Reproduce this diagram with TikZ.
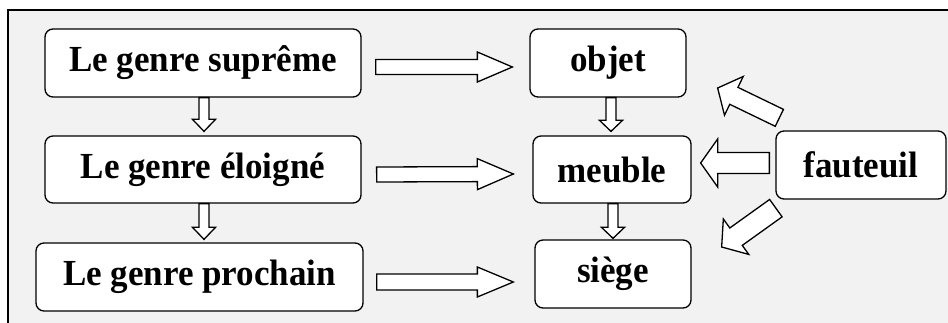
\documentclass[tikz,border=0pt]{standalone}
\usepackage{fontspec}
\usepackage{graphicx}
\setmainfont{Liberation Serif}
\usetikzlibrary{calc}
\definecolor{panel}{HTML}{F2F2F2}
\newcommand\tall[1]{\scalebox{1}[1.05]{#1}}
\tikzset{
  box/.style={draw=black, fill=white, line width=1.3pt, rounded corners=8pt,
    font=\fontsize{35}{40}\selectfont\bfseries, inner sep=0pt, anchor=center},
  blockarrow/.style={draw=black, fill=white, line width=1.3pt, line join=miter},
}
% Block arrow: #1 tail, #2 tip, #3 half shaft width, #4 half head width, #5 head length
\newcommand\blockarr[5]{%
  \path ($(#2)!#5!(#1)$) coordinate (ba-h);
  \draw[blockarrow] ($(#1)!#3!90:(#2)$) -- ($(ba-h)!#3!-90:(#1)$)
    -- ($(ba-h)!#4!-90:(#1)$) -- (#2) -- ($(ba-h)!#4!90:(#1)$)
    -- ($(ba-h)!#3!90:(#1)$) -- ($(#1)!#3!-90:(#2)$) -- cycle;}
\begin{document}
\begin{tikzpicture}[x=1pt,y=-1pt]
  \useasboundingbox (0,0) rectangle (948,323);
  \clip (0,0) rectangle (948,323);
  % panel
  \fill[panel] (8,10) rectangle (960,340);
  \draw[line width=1.4pt] (8,340) -- (8,10) -- (960,10);

  % left column
  \node[box, minimum width=316pt, minimum height=68pt] (sup) at (203,63) {\tall{Le genre suprême}};
  \node[box, minimum width=316pt, minimum height=67pt] (elo) at (203,169.5) {\tall{Le genre éloigné}};
  \node[box, minimum width=327pt, minimum height=68pt] (pro) at (199.5,277) {\tall{Le genre prochain}};
  % middle column
  \node[box, minimum width=156pt, minimum height=68pt] (obj) at (608,63) {\tall{objet}};
  \node[box, minimum width=158pt, minimum height=67pt] (meu) at (612,169.5) {\tall{meuble}};
  \node[box, minimum width=156pt, minimum height=68pt] (sie) at (613,274) {\tall{siège}};
  % right
  \node[box, minimum width=170pt, minimum height=68pt] (fau) at (861,165) {\tall{fauteuil}};

  % connector end points
  \coordinate (r1s) at ($(sup.east)+(14,4)$);
  \coordinate (r1e) at ($(obj.west)+(-17,4)$);
  \coordinate (r2s) at ($(elo.east)+(15,5)$);
  \coordinate (r2e) at ($(meu.west)+(-19,4.5)$);
  \coordinate (r3s) at ($(pro.east)+(13,5)$);
  \coordinate (r3e) at ($(sie.west)+(-21,8)$);

  \coordinate (d1s) at ($(sup.south)+(1,0)$);
  \coordinate (d1e) at ($(elo.north)+(1,-4)$);
  \coordinate (d2s) at ($(elo.south)+(1,0)$);
  \coordinate (d2e) at ($(pro.north)+(4.5,-3)$);
  \coordinate (d3s) at ($(obj.south)+(3,0)$);
  \coordinate (d3e) at ($(meu.north)+(-1,-4)$);
  \coordinate (d4s) at ($(meu.south)+(1,0)$);
  \coordinate (d4e) at ($(sie.north)+(0,-1)$);

  \coordinate (ls) at ($(fau.west)+(-6,-2)$);
  \coordinate (le) at ($(meu.east)+(9,-6.5)$);
  \coordinate (us) at ($(fau.north west)+(4,-12.5)$);
  \coordinate (ue) at ($(obj.east)+(31,25)$);
  \coordinate (ws) at ($(fau.south west)+(0.5,8.5)$);
  \coordinate (we) at ($(sie.east)+(30,-27)$);

  % horizontal arrows
  \blockarr{r1s}{r1e}{7.5pt}{15pt}{35pt}
  \blockarr{r2s}{r2e}{7.5pt}{15.5pt}{36pt}
  \blockarr{r3s}{r3e}{8pt}{15pt}{36pt}
  % vertical arrows
  \blockarr{d1s}{d1e}{5pt}{11.5pt}{12pt}
  \blockarr{d2s}{d2e}{5pt}{11.5pt}{12pt}
  \blockarr{d3s}{d3e}{5pt}{11.5pt}{11pt}
  \blockarr{d4s}{d4e}{5pt}{11.5pt}{11pt}
  % arrows leaving the fauteuil box
  \blockarr{ls}{le}{10.5pt}{24pt}{17pt}
  \blockarr{us}{ue}{9.4pt}{21.5pt}{18pt}
  \blockarr{ws}{we}{10.7pt}{21.8pt}{17.7pt}
\end{tikzpicture}
\end{document}
